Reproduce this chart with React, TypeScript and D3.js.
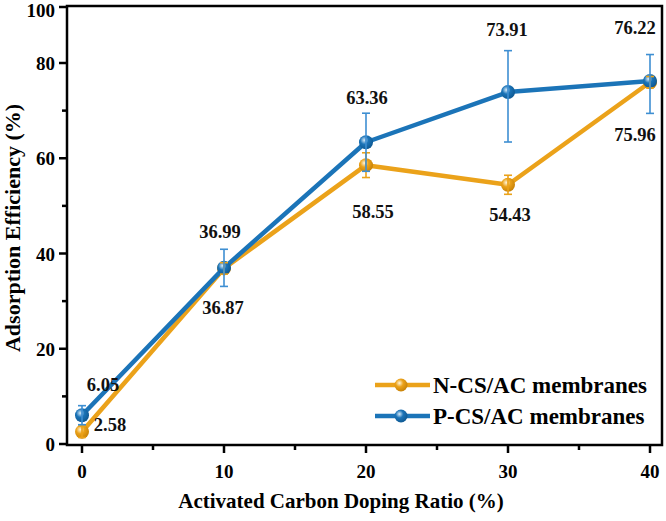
import { scaleLinear, line } from 'd3';

// ---- data ----
const ratios = [0, 10, 20, 30, 40];
const nValues = [2.58, 36.87, 58.55, 54.43, 75.96];
const nErrors = [1.2, 1.2, 2.6, 2.0, 1.2];
const pValues = [6.05, 36.99, 63.36, 73.91, 76.22];
const pErrors = [2.0, 3.9, 6.1, 10.5, 6.8];
const xTicks = [0, 10, 20, 30, 40];
const xMinorTicks = [5, 15, 25, 35];
const yTicks = [0, 20, 40, 60, 80, 100];
const yMinorTicks = [10, 30, 50, 70];
const seriesNames = ['N-CS/AC membranes', 'P-CS/AC membranes'];

// label offsets (px) from each point
const nLabelOffsets: [number, number][] = [[28, -7], [-1, 40], [7, 47], [2, 30], [-15, 53]];
const pLabelOffsets: [number, number][] = [[21, -30], [-4, -36], [1, -44], [-1, -62], [-15, -53]];

const W = 666;
const H = 521;
const left = 67;
const right = 662;
const top = 6;
const bottom = 445;

const ORANGE = '#EBA21A';
const BLUE = '#1B74B8';
const BLUE_ERR = '#3E8FD2';
const FONT = '"Liberation Serif", "Times New Roman", serif';

const x = scaleLinear().domain([0, 40]).range([82, 650]);
// axis is drawn with a compressed top segment (80 -> 100)
const y = scaleLinear().domain([0, 80, 100]).range([444, 63, 7]);

interface Series {
  name: string;
  values: number[];
  errors: number[];
  offsets: [number, number][];
  color: string;
  errColor: string;
  grad: string;
}

const series: Series[] = [
  { name: seriesNames[0], values: nValues, errors: nErrors, offsets: nLabelOffsets, color: ORANGE, errColor: ORANGE, grad: 'grad-n' },
  { name: seriesNames[1], values: pValues, errors: pErrors, offsets: pLabelOffsets, color: BLUE, errColor: BLUE_ERR, grad: 'grad-p' },
];

export default function App() {
  const lineGen = line<[number, number]>()
    .x((d) => x(d[0]))
    .y((d) => y(d[1]));

  return (
    <svg
      width={W}
      height={H}
      style={{ position: 'absolute', left: 0, top: 0, background: '#fff' }}
      fontFamily={FONT}
      fontWeight="bold"
    >
      <defs>
        <radialGradient id="grad-n" cx="38%" cy="35%" r="65%">
          <stop offset="0%" stopColor="#FFF6DC" />
          <stop offset="45%" stopColor={ORANGE} />
          <stop offset="100%" stopColor="#C98308" />
        </radialGradient>
        <radialGradient id="grad-p" cx="38%" cy="35%" r="65%">
          <stop offset="0%" stopColor="#D8ECFA" />
          <stop offset="45%" stopColor={BLUE} />
          <stop offset="100%" stopColor="#0F5A94" />
        </radialGradient>
      </defs>

      {/* lines and markers */}
      {series.map((s) => (
        <g key={s.name}>
          <path
            d={lineGen(ratios.map((r, i) => [r, s.values[i]] as [number, number])) || ''}
            fill="none"
            stroke={s.color}
            strokeWidth={4.5}
            strokeLinejoin="round"
          />
          {ratios.map((r, i) => (
            <circle key={r} cx={x(r)} cy={y(s.values[i])} r={7} fill={`url(#${s.grad})`} />
          ))}
        </g>
      ))}

      {/* error bars */}
      {series.map((s) => (
        <g key={s.name + '-err'} stroke={s.errColor} strokeWidth={1.6}>
          {ratios.map((r, i) => {
            const cx = x(r);
            const y1 = y(s.values[i] + s.errors[i]);
            const y2 = y(s.values[i] - s.errors[i]);
            return (
              <g key={r}>
                <line x1={cx} x2={cx} y1={y1} y2={y2} />
                <line x1={cx - 4} x2={cx + 4} y1={y1} y2={y1} />
                <line x1={cx - 4} x2={cx + 4} y1={y2} y2={y2} />
              </g>
            );
          })}
        </g>
      ))}

      {/* value labels */}
      {series.map((s) => (
        <g key={s.name + '-lbl'} fontSize={18.5} fill="#111" textAnchor="middle">
          {ratios.map((r, i) => (
            <text key={r} x={x(r) + s.offsets[i][0]} y={y(s.values[i]) + s.offsets[i][1] + 6}>
              {s.values[i].toFixed(2)}
            </text>
          ))}
        </g>
      ))}

      {/* frame */}
      <rect x={left} y={top} width={right - left} height={bottom - top} fill="none" stroke="#000" strokeWidth={2.5} />

      {/* ticks */}
      <g stroke="#000" strokeWidth={2.5}>
        {xTicks.map((t) => (
          <line key={t} x1={x(t)} x2={x(t)} y1={bottom} y2={bottom + 8} />
        ))}
        {xMinorTicks.map((t) => (
          <line key={t} x1={x(t)} x2={x(t)} y1={bottom} y2={bottom + 5} />
        ))}
        {yTicks.map((t) => (
          <line key={t} x1={left} x2={left - 8} y1={y(t)} y2={y(t)} />
        ))}
        {yMinorTicks.map((t) => (
          <line key={t} x1={left} x2={left - 5} y1={y(t)} y2={y(t)} />
        ))}
      </g>
      <g fontSize={19} fill="#000" textAnchor="middle">
        {xTicks.map((t) => (
          <text key={t} x={x(t)} y={478}>
            {t}
          </text>
        ))}
      </g>
      <g fontSize={19} fill="#000" textAnchor="end">
        {yTicks.map((t) => (
          <text key={t} x={55} y={Math.max(y(t) + 7, 17)}>
            {t}
          </text>
        ))}
      </g>

      {/* axis titles */}
      <text x={341} y={508} fontSize={21} textAnchor="middle" fill="#000">
        Activated Carbon Doping Ratio (%)
      </text>
      <text transform="translate(20,228) rotate(-90)" fontSize={22} textAnchor="middle" fill="#000">
        Adsorption Efficiency (%)
      </text>

      {/* legend */}
      {series.map((s, i) => {
        const ly = 385 + i * 31;
        return (
          <g key={s.name + '-leg'}>
            <line x1={375} x2={430} y1={ly} y2={ly} stroke={s.color} strokeWidth={4.5} />
            <circle cx={401} cy={ly} r={6.5} fill={`url(#${s.grad})`} />
            <text x={433} y={ly + 8} fontSize={23} fill="#000">
              {s.name}
            </text>
          </g>
        );
      })}
    </svg>
  );
}
